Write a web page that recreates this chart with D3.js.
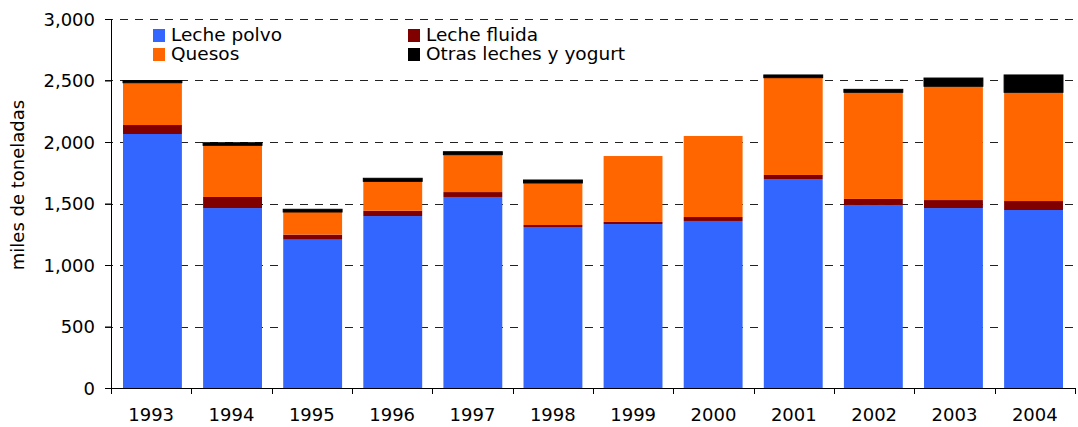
<!DOCTYPE html>
<html>
<head>
<meta charset="utf-8">
<script src="https://cdn.jsdelivr.net/npm/d3@7"></script>
<style>
  body { margin: 0; background: #fff; }
  text { font-family: "DejaVu Sans", Verdana, sans-serif; fill: #000; }
</style>
</head>
<body>
<div class="svg-div"></div>
<script>
// data (miles de toneladas)
const years = ['1993', '1994', '1995', '1996', '1997', '1998', '1999', '2000', '2001', '2002', '2003', '2004']
const lechePolvo = [2065, 1463, 1206, 1398, 1553, 1309, 1333, 1358, 1699, 1488, 1463, 1447]
const lecheFluida = [73, 90, 41, 43, 40, 16, 17, 32, 33, 49, 65, 73]
const quesos = [344, 420, 184, 239, 304, 342, 536, 659, 791, 867, 925, 884]
const otras = [18, 21, 22, 25, 24, 24, 0, 0, 22, 24, 67, 141]
const seriesNames = ['Leche polvo', 'Leche fluida', 'Quesos', 'Otras leches y yogurt']
const seriesColors = ['#3366ff', '#800000', '#ff6600', '#000000']
const yTicks = [0, 500, 1000, 1500, 2000, 2500, 3000]

const w = 1078
const h = 427
const plotLeft = 111
const plotRight = 1075
const plotTop = 19
const plotBottom = 388

const keys = ['polvo', 'fluida', 'quesos', 'otras']
const table = years.map((y, i) => ({
    year: y,
    polvo: lechePolvo[i],
    fluida: lecheFluida[i],
    quesos: quesos[i],
    otras: otras[i]
}))
const stacked = d3.stack().keys(keys)(table)

const svg = d3.select('.svg-div')
    .append('svg')
    .attr('width', w)
    .attr('height', h)

const xScale = d3.scaleBand()
    .domain(years)
    .range([plotLeft, plotRight])
    .paddingInner(0.265)
    .paddingOuter(0.15)

// categories without padding, used for the tick marks between bars
const xCat = d3.scaleBand()
    .domain(years)
    .range([plotLeft, plotRight])

const yScale = d3.scaleLinear()
    .domain([0, 3000])
    .range([plotBottom, plotTop])

// dashed gridlines
svg.append('g')
    .selectAll('line')
    .data(yTicks.filter(d => d > 0))
    .enter()
    .append('line')
    .attr('x1', plotLeft - 6)
    .attr('x2', plotRight)
    .attr('y1', d => Math.round(yScale(d)) + 0.5)
    .attr('y2', d => Math.round(yScale(d)) + 0.5)
    .attr('stroke', '#222')
    .attr('stroke-width', 1)
    .attr('stroke-dasharray', '8,7')

// bars
svg.append('g')
    .selectAll('g')
    .data(stacked)
    .enter()
    .append('g')
    .attr('fill', (d, i) => seriesColors[i])
    // the black series has a thin outline in the original
    .attr('stroke', (d, i) => i === 3 ? '#000' : 'none')
    .attr('stroke-width', 1)
    .selectAll('rect')
    .data(d => d.filter(v => v[1] > v[0]))
    .enter()
    .append('rect')
    .attr('x', d => xScale(d.data.year))
    .attr('width', xScale.bandwidth())
    .attr('y', d => yScale(d[1]))
    .attr('height', d => yScale(d[0]) - yScale(d[1]))

// y axis
const yAxis = d3.axisLeft(yScale)
    .tickValues(yTicks)
    .tickSize(6)
    .tickPadding(10)
    .tickFormat(d3.format(','))

svg.append('g')
    .attr('id', 'y-axis')
    .attr('transform', 'translate(' + plotLeft + ',0)')
    .call(yAxis)
    .call(g => g.select('.domain').attr('d', 'M0.5,' + plotTop + 'V' + (plotBottom + 0.5)))
    .call(g => g.selectAll('text').style('font-size', '18px').attr('dy', '0.35em'))

// x axis
const xAxisG = svg.append('g')
    .attr('id', 'x-axis')

xAxisG.append('line')
    .attr('x1', plotLeft)
    .attr('x2', plotRight)
    .attr('y1', plotBottom + 0.5)
    .attr('y2', plotBottom + 0.5)
    .attr('stroke', '#000')

xAxisG.selectAll('.tick')
    .data(years.concat(['end']))
    .enter()
    .append('line')
    .attr('x1', d => Math.round(d === 'end' ? plotRight : xCat(d)) + 0.5)
    .attr('x2', d => Math.round(d === 'end' ? plotRight : xCat(d)) + 0.5)
    .attr('y1', plotBottom)
    .attr('y2', plotBottom + 6)
    .attr('stroke', '#000')

xAxisG.selectAll('text')
    .data(years)
    .enter()
    .append('text')
    .attr('x', d => xCat(d) + xCat.bandwidth() / 2)
    .attr('y', 421)
    .attr('text-anchor', 'middle')
    .style('font-size', '18px')
    .text(d => d)

// y axis title
svg.append('text')
    .attr('transform', 'rotate(-90)')
    .attr('x', -185)
    .attr('y', 24)
    .attr('text-anchor', 'middle')
    .style('font-size', '18px')
    .text('miles de toneladas')

// legend
const legendPos = [[153, 29], [408, 29], [153, 48], [408, 48]]
const legend = svg.append('g')
    .selectAll('g')
    .data(seriesNames)
    .enter()
    .append('g')
    .attr('transform', (d, i) => 'translate(' + legendPos[i][0] + ',' + legendPos[i][1] + ')')

legend.append('rect')
    .attr('width', 12)
    .attr('height', 13)
    .attr('fill', (d, i) => seriesColors[i])

legend.append('text')
    .attr('x', 18)
    .attr('y', 12)
    .style('font-size', '18.5px')
    .text(d => d)
</script>
</body>
</html>
